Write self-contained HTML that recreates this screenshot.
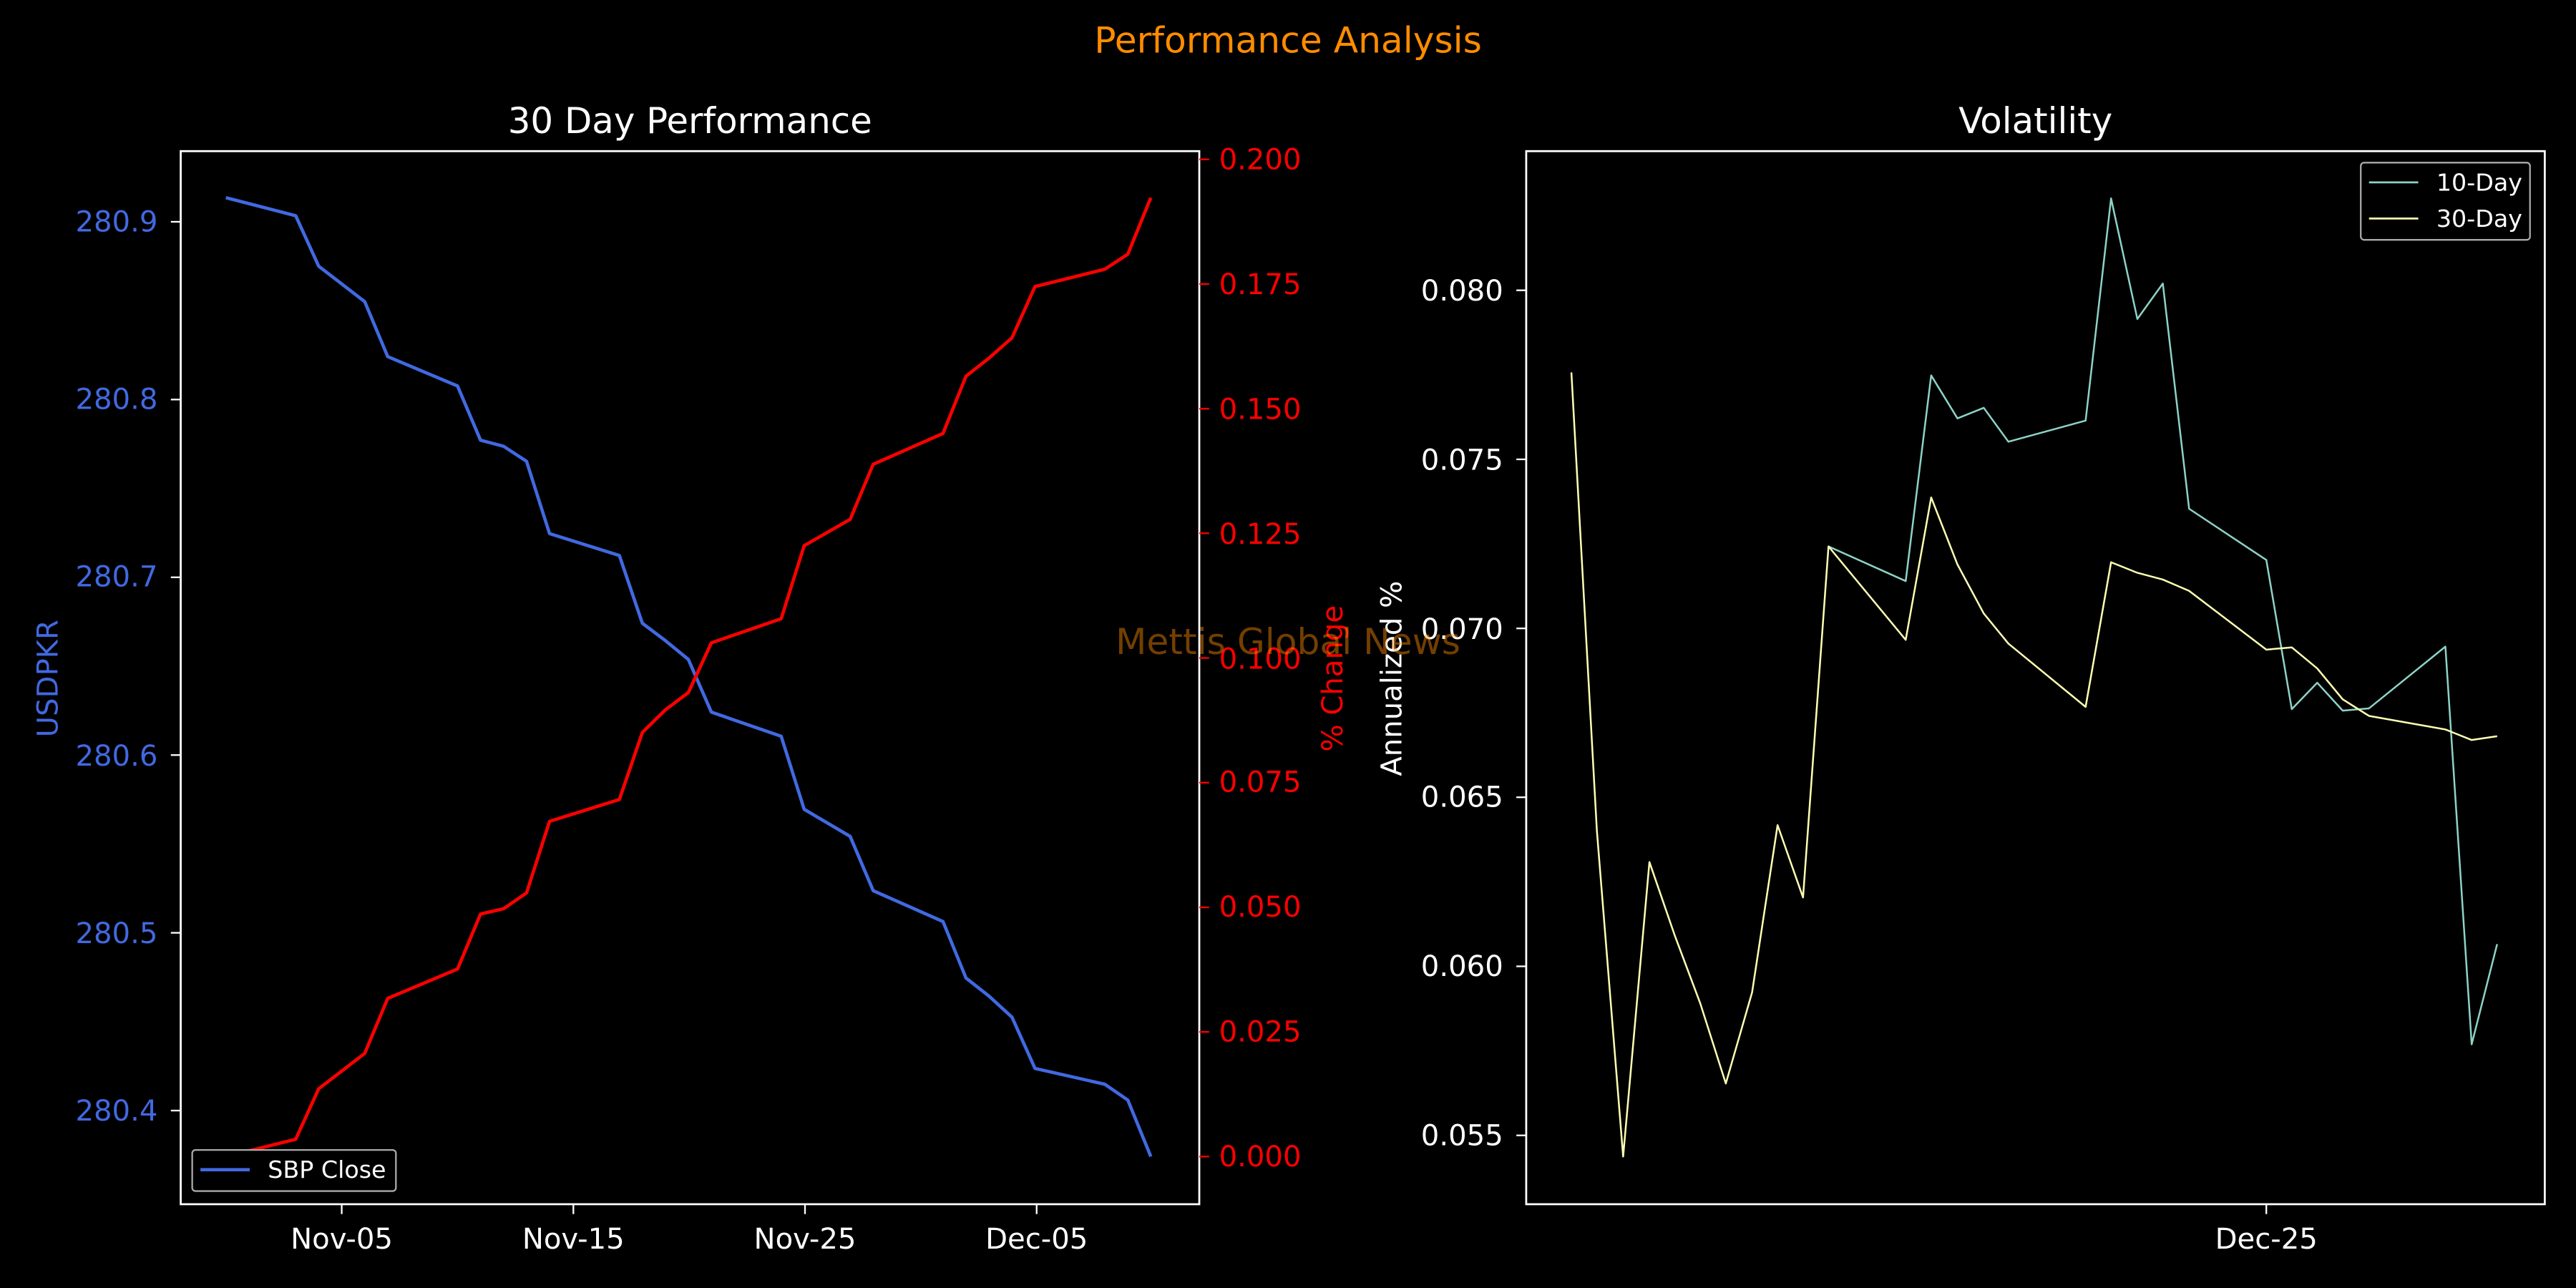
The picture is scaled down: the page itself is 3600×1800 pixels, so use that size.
<!DOCTYPE html>
<html><head><style>html,body{margin:0;padding:0;background:#000;}svg{display:block}</style></head>
<body>
<svg width="3600" height="1800" viewBox="0 0 1568 784" xmlns="http://www.w3.org/2000/svg" font-family="'DejaVu Sans','Liberation Sans',sans-serif">
<rect width="1568" height="784" fill="#000"/>
<text x="784" y="32" fill="#ff8c00" font-size="21.9" text-anchor="middle">Performance Analysis</text>
<text x="420" y="81" fill="#fff" font-size="21.7" text-anchor="middle">30 Day Performance</text>
<text x="1239" y="81" fill="#fff" font-size="21.7" text-anchor="middle">Volatility</text>

<g transform="translate(0,65.3) scale(0.5,0.4585)" fill="none" stroke-linejoin="round">
<polyline vector-effect="non-scaling-stroke" stroke-width="4.6" stroke="#4169e1" points="275,120 360,144 388,211 444,258 472,331 557,370 585,442 613,450 641,470 669,566 754,595 782,685 810,708 838,733 866,803 951,835 979,932 1035,968 1063,1040 1148,1081 1176,1156 1204,1180 1232,1208 1260,1276 1345,1297 1373,1318 1401,1393"/>
<polyline vector-effect="non-scaling-stroke" stroke-width="4.6" stroke="#ff0000" points="275,1393 360,1370 388,1303 444,1256 472,1183 557,1144 585,1071 613,1064 641,1043 669,948 754,919 782,830 810,800 838,777 866,711 951,679 979,582 1035,547 1063,474 1148,433 1176,357 1204,333 1232,306 1260,238 1345,215 1373,195 1401,120"/>
</g>
<rect x="110" y="92" width="620" height="641" fill="none" stroke="#fff" stroke-width="1.2"/>
<g stroke="#fff" stroke-width="1">
<line x1="104" x2="110" y1="135" y2="135"/><line x1="104" x2="110" y1="243.2" y2="243.2"/><line x1="104" x2="110" y1="351.4" y2="351.4"/><line x1="104" x2="110" y1="459.6" y2="459.6"/><line x1="104" x2="110" y1="567.8" y2="567.8"/><line x1="104" x2="110" y1="676" y2="676"/>
<line x1="208" x2="208" y1="733" y2="739"/><line x1="349" x2="349" y1="733" y2="739"/><line x1="490" x2="490" y1="733" y2="739"/><line x1="631" x2="631" y1="733" y2="739"/>
</g>
<g fill="#4169e1" font-size="17.5" text-anchor="end">
<text x="96" y="141">280.9</text><text x="96" y="249">280.8</text><text x="96" y="357">280.7</text><text x="96" y="466">280.6</text><text x="96" y="574">280.5</text><text x="96" y="682">280.4</text>
</g>
<text transform="translate(35,413) rotate(-90)" fill="#4169e1" font-size="17.5" text-anchor="middle">USDPKR</text>
<g fill="#fff" font-size="17.5" text-anchor="middle">
<text x="208" y="760">Nov-05</text><text x="349" y="760">Nov-15</text><text x="490" y="760">Nov-25</text><text x="631" y="760">Dec-05</text>
</g>
<g stroke="#ff0000" stroke-width="1">
<line x1="730" x2="736" y1="97" y2="97"/><line x1="730" x2="736" y1="172.9" y2="172.9"/><line x1="730" x2="736" y1="248.8" y2="248.8"/><line x1="730" x2="736" y1="324.6" y2="324.6"/><line x1="730" x2="736" y1="400.5" y2="400.5"/><line x1="730" x2="736" y1="476.4" y2="476.4"/><line x1="730" x2="736" y1="552.3" y2="552.3"/><line x1="730" x2="736" y1="628.1" y2="628.1"/><line x1="730" x2="736" y1="704" y2="704"/>
</g>
<g fill="#ff0000" font-size="17.5">
<text x="742" y="103">0.200</text><text x="742" y="179">0.175</text><text x="742" y="255">0.150</text><text x="742" y="331">0.125</text><text x="742" y="407">0.100</text><text x="742" y="482">0.075</text><text x="742" y="558">0.050</text><text x="742" y="634">0.025</text><text x="742" y="710">0.000</text>
</g>
<text transform="translate(817,413) rotate(-90)" fill="#ff0000" font-size="17.5" text-anchor="middle">% Change</text>
<rect x="117" y="700" width="124" height="25" rx="2" fill="#000" stroke="#aaa" stroke-width="1"/>
<line x1="122" x2="152" y1="712" y2="712" stroke="#4169e1" stroke-width="2"/>
<text x="163" y="717" fill="#fff" font-size="14.5">SBP Close</text>

<g transform="translate(784,65.3) scale(0.5,0.4585)" fill="none" stroke-linejoin="round">
<polyline vector-effect="non-scaling-stroke" stroke-width="2.5" stroke="#8dd3c7" points="658,583 752,629 783,356 815,413 847,399 877,444 971,416 1002,121 1034,281 1065,234 1097,533 1191,601 1222,799 1253,764 1284,801 1316,798 1409,716 1441,1244 1472,1111"/>
<polyline vector-effect="non-scaling-stroke" stroke-width="2.5" stroke="#ffffb3" points="345,352 376,960 408,1393 440,1002 471,1100 502,1190 533,1296 565,1175 596,953 627,1049 658,583 752,707 783,518 815,607 847,672 877,712 971,796 1002,604 1034,618 1065,627 1097,642 1191,720 1222,717 1253,745 1284,786 1316,808 1409,826 1441,840 1472,835"/>
</g>
<rect x="929" y="92" width="620" height="641" fill="none" stroke="#fff" stroke-width="1.2"/>
<g stroke="#fff" stroke-width="1">
<line x1="923" x2="929" y1="176.7" y2="176.7"/><line x1="923" x2="929" y1="279.6" y2="279.6"/><line x1="923" x2="929" y1="382.5" y2="382.5"/><line x1="923" x2="929" y1="485.3" y2="485.3"/><line x1="923" x2="929" y1="588.2" y2="588.2"/><line x1="923" x2="929" y1="691.1" y2="691.1"/>
<line x1="1379.5" x2="1379.5" y1="733" y2="739"/>
</g>
<g fill="#fff" font-size="17.5" text-anchor="end">
<text x="915" y="183">0.080</text><text x="915" y="286">0.075</text><text x="915" y="389">0.070</text><text x="915" y="491">0.065</text><text x="915" y="594">0.060</text><text x="915" y="697">0.055</text>
</g>
<text x="1379.5" y="760" fill="#fff" font-size="17.5" text-anchor="middle">Dec-25</text>
<text transform="translate(853,413) rotate(-90)" fill="#fff" font-size="17.5" text-anchor="middle">Annualized %</text>
<rect x="1437" y="99" width="103" height="47" rx="2" fill="#000" stroke="#aaa" stroke-width="1"/>
<line x1="1442" x2="1472" y1="111" y2="111" stroke="#8dd3c7" stroke-width="1.2"/>
<text x="1483" y="116" fill="#fff" font-size="14.5">10-Day</text>
<line x1="1442" x2="1472" y1="133" y2="133" stroke="#ffffb3" stroke-width="1.2"/>
<text x="1483" y="138" fill="#fff" font-size="14.5">30-Day</text>

<text x="784" y="398" fill="#ff8c00" fill-opacity="0.45" font-size="21.9" text-anchor="middle">Mettis Global News</text>
</svg>
</body></html>
